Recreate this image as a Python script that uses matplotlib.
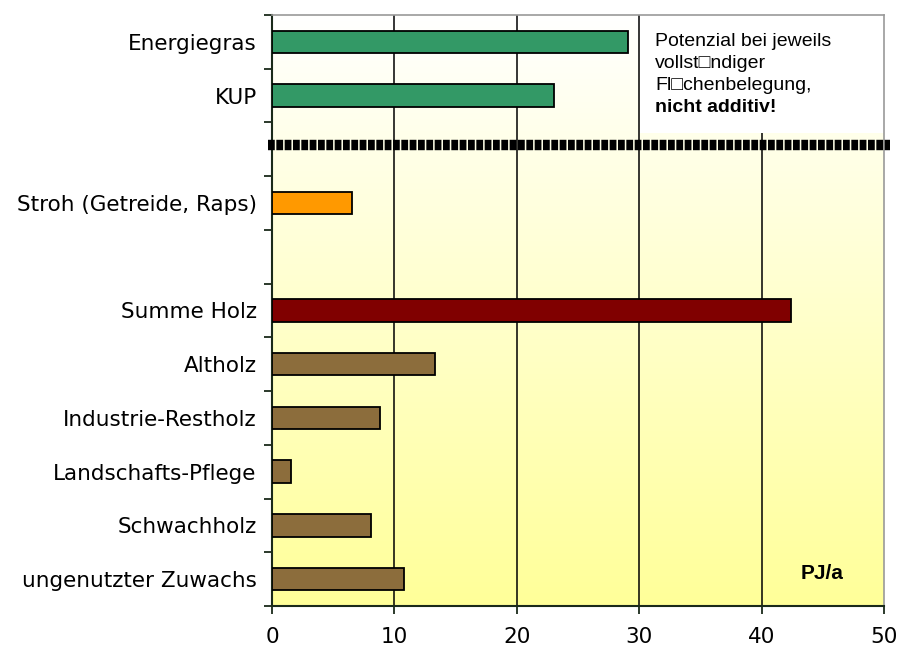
import numpy as np
import matplotlib
matplotlib.use("Agg")
import matplotlib.pyplot as plt
from matplotlib.colors import LinearSegmentedColormap
from matplotlib.patches import Rectangle

# --- data (top to bottom, empty slots keep the spacing) ---
labels = ["Energiegras", "KUP", "", "Stroh (Getreide, Raps)", "",
          "Summe Holz", "Altholz", "Industrie-Restholz", "Landschafts-Pflege",
          "Schwachholz", "ungenutzter Zuwachs"]
values = [29.1, 23.0, None, 6.5, None, 42.4, 13.3, 8.8, 1.55, 8.1, 10.8]
colors = ["#339966", "#339966", None, "#FF9900", None,
          "#800000", "#8C6D3C", "#8C6D3C", "#8C6D3C", "#8C6D3C", "#8C6D3C"]
divider_y = 1.92
x_ticks = [0, 10, 20, 30, 40, 50]
note_lines = ["Potenzial bei jeweils", "vollst\u25a1ndiger", "Fl\u25a1chenbelegung,",
              "nicht additiv!"]
note_y = [0.0, 0.41, 0.82, 1.23]
unit = "PJ/a"


def main():
    plt.rcParams.update({"font.family": "DejaVu Sans"})
    fig = plt.figure(figsize=(8.98, 6.5), dpi=100)
    ax = fig.add_axes([0.3029, 0.0677, 0.6815, 0.9093])

    n = len(labels)
    ax.set_xlim(0, 50)
    ax.set_ylim(n - 0.5, -0.5)

    # gradient background, white at top to pale yellow at bottom
    cmap = LinearSegmentedColormap.from_list("bg", ["#FFFFFF", "#FFFF99"])
    grad = np.linspace(0, 1, 256).reshape(-1, 1)
    ax.imshow(grad, cmap=cmap, aspect="auto", extent=(0, 50, n - 0.5, -0.5),
              zorder=0)

    for xv in x_ticks[1:-1]:
        ax.axvline(xv, color="black", lw=1.1, zorder=1)

    # note box
    ax.add_patch(Rectangle((30.05, -0.5), 19.95, 2.2, facecolor="white",
                           edgecolor="none", zorder=2))
    for k, (line, yy) in enumerate(zip(note_lines, note_y)):
        ax.text(31.3, yy, line, family="Liberation Sans", fontsize=14,
                fontweight="bold" if k == len(note_lines) - 1 else "normal",
                va="center", ha="left", zorder=3)

    for i, (v, c) in enumerate(zip(values, colors)):
        if v is None:
            continue
        ax.barh(i, v, height=0.42, color=c, edgecolor="black", lw=1.3,
                zorder=4)

    ax.plot([-0.3, 50.5], [divider_y, divider_y], color="black", lw=7.5,
            linestyle=(0, (0.65, 0.15)), dash_capstyle="butt",
            clip_on=False, zorder=5)

    ax.text(44.9, 9.9, unit, family="Liberation Sans", fontsize=15,
            fontweight="bold", ha="center", va="center", zorder=3)

    # y ticks at slot boundaries, labels at slot centres
    ax.set_yticks(np.arange(-0.5, n, 1.0))
    ax.set_yticklabels([])
    ax.set_yticks(np.arange(n), minor=True)
    ax.set_yticklabels(labels, minor=True, fontsize=15.5)
    ax.tick_params(axis="y", which="major", length=6, width=1.3,
                   color="#1a2a1a")
    ax.tick_params(axis="y", which="minor", length=0, pad=11)

    ax.set_xticks(x_ticks)
    ax.set_xticklabels([str(t) for t in x_ticks], fontsize=15.5)
    ax.tick_params(axis="x", length=6, width=1.3, color="#1a2a1a", pad=9)

    for s in ("left", "bottom"):
        ax.spines[s].set_color("#1a2a1a")
        ax.spines[s].set_linewidth(1.5)
    for s in ("top", "right"):
        ax.spines[s].set_color("#999999")
        ax.spines[s].set_linewidth(1.2)

    fig.savefig("out.png", dpi=100)
    plt.close(fig)


if __name__ == "__main__":
    main()
